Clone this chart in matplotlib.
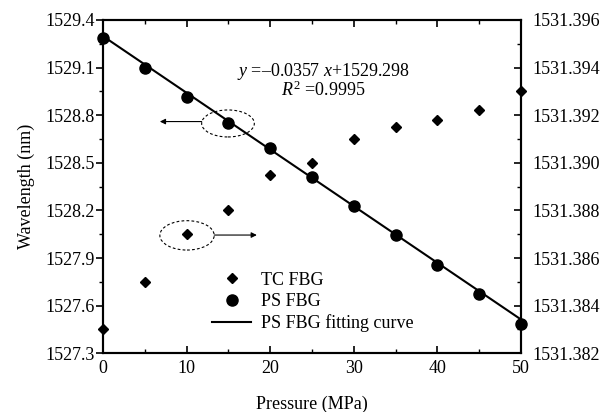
import numpy as np
import matplotlib
matplotlib.use("Agg")
import matplotlib.pyplot as plt
from matplotlib.patches import Ellipse
from matplotlib.lines import Line2D

plt.rcParams['font.family'] = ['Liberation Serif', 'DejaVu Serif']
plt.rcParams['mathtext.fontset'] = 'custom'
plt.rcParams['mathtext.it'] = 'Liberation Serif:italic'
plt.rcParams['mathtext.rm'] = 'Liberation Serif'

# data
pressure = [0, 5, 10, 15, 20, 25, 30, 35, 40, 45, 50]
ps_fbg = [1529.285, 1529.10, 1528.917, 1528.753, 1528.595, 1528.41,
          1528.228, 1528.047, 1527.858, 1527.673, 1527.484]
tc_fbg = [1531.3830, 1531.3850, 1531.3870, 1531.3880, 1531.3895, 1531.3900,
          1531.3910, 1531.3915, 1531.3918, 1531.3922, 1531.3930]
fit_slope = -0.0357
fit_intercept = 1529.298

fs = 13
fig = plt.figure(figsize=(6.11, 4.12), dpi=100)
ax = fig.add_axes([0.1686, 0.1425, 0.6841, 0.809])
ax2 = ax.twinx()

# fitting curve + PS points on left axis
xf = np.array([pressure[0], pressure[-1]])
ax.plot(xf, fit_slope * xf + fit_intercept, color='black', lw=1.5, zorder=2)
ax.plot(pressure, ps_fbg, 'o', color='black', ms=8, zorder=3, clip_on=False)

# TC points on right axis
ax2.plot(pressure, tc_fbg, 'D', color='black', ms=5.5, clip_on=False)

ax.set_xlim(0, 50)
ax.set_ylim(1527.3, 1529.4)
ax2.set_ylim(1531.382, 1531.396)

ax.set_xticks(np.arange(0, 51, 10))
ax.set_xticks(np.arange(0, 51, 5), minor=True)
ax.set_yticks(np.arange(1527.3, 1529.41, 0.3))
ax.set_yticks(np.arange(1527.3, 1529.41, 0.15), minor=True)
ax.set_yticklabels(['%.1f' % v for v in np.arange(1527.3, 1529.41, 0.3)])
ax2.set_yticks(np.arange(1531.382, 1531.3961, 0.002))
ax2.set_yticks(np.arange(1531.382, 1531.3961, 0.001), minor=True)
ax2.set_yticklabels(['%.3f' % v for v in np.arange(1531.382, 1531.3961, 0.002)])

ax.tick_params(axis='x', which='both', direction='in', top=True, labelsize=fs, pad=5)
ax.tick_params(axis='x', which='major', length=5, width=1.2)
ax.tick_params(axis='x', which='minor', length=3, width=1)
ax.tick_params(axis='y', which='both', direction='out', labelsize=fs, pad=1)
ax.tick_params(axis='y', which='major', length=5, width=1.2)
ax.tick_params(axis='y', which='minor', length=3, width=1)
ax2.tick_params(axis='y', which='both', direction='in', labelsize=fs, pad=8)
ax2.tick_params(axis='y', which='major', length=5, width=1.2)
ax2.tick_params(axis='y', which='minor', length=3, width=1)
for a in (ax, ax2):
    for s in a.spines.values():
        s.set_linewidth(1.5)

ax.set_xlabel('Pressure (MPa)', fontsize=fs, labelpad=13)
ax.set_ylabel('Wavelength (nm)', fontsize=fs, labelpad=7)

# annotation ellipses and arrows
ax.add_patch(Ellipse((14.95, 1528.748), 6.3, 0.17, fill=False, ls=(0, (2.5, 2)),
                     lw=0.8, color='black', zorder=4))
ax.annotate('', xy=(6.8, 1528.76), xytext=(11.8, 1528.76),
            arrowprops=dict(arrowstyle='-|>', color='black', lw=0.8,
                            mutation_scale=8, shrinkA=0, shrinkB=0))
ax.add_patch(Ellipse((10.05, 1528.043), 6.5, 0.185, fill=False, ls=(0, (2.5, 2)),
                     lw=0.8, color='black', zorder=4))
ax.annotate('', xy=(18.4, 1528.045), xytext=(13.3, 1528.045),
            arrowprops=dict(arrowstyle='-|>', color='black', lw=0.8,
                            mutation_scale=8, shrinkA=0, shrinkB=0))

ax.text(26.4, 1529.017, '$y$ =\u20130.0357 $x$+1529.298\n$R^2$ =0.9995',
        ha='center', va='center', fontsize=fs, linespacing=0.9)

handles = [Line2D([], [], marker='D', color='black', ls='none', ms=5.5),
           Line2D([], [], marker='o', color='black', ls='none', ms=8),
           Line2D([], [], color='black', lw=1.5)]
ax2.legend(handles, ['TC FBG', 'PS FBG', 'PS FBG fitting curve'],
           loc='center left', bbox_to_anchor=(0.26, 0.154), frameon=False,
           fontsize=fs, handlelength=2.2, handletextpad=0.55, labelspacing=0.25,
           borderpad=0, borderaxespad=0)

fig.savefig('out.png', dpi=100)
